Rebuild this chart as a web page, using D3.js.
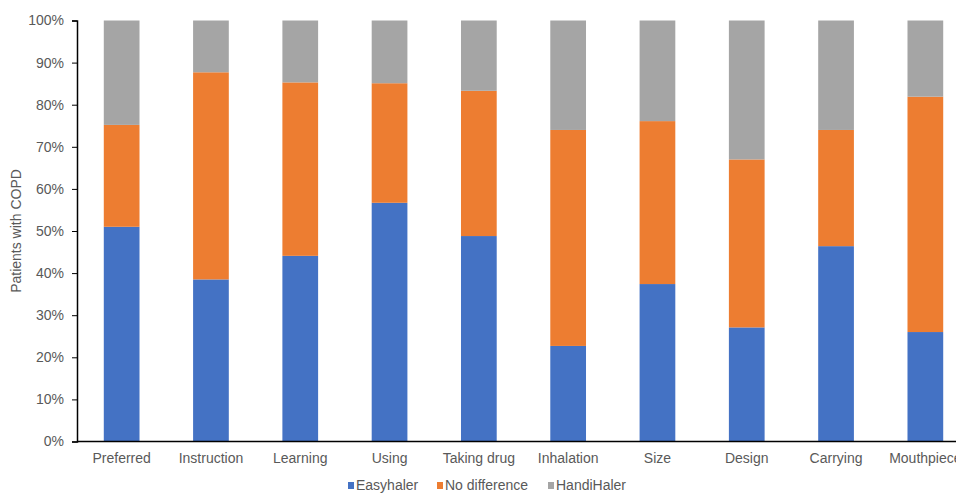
<!DOCTYPE html>
<html>
<head>
<meta charset="utf-8">
<script src="https://cdn.jsdelivr.net/npm/d3@7"></script>
<style>
  html, body { margin: 0; padding: 0; background: #fff; }
  svg { display: block; font-family: "Liberation Sans", Arial, sans-serif; }
</style>
</head>
<body>
<svg id="chart" width="956" height="493"></svg>
<script>
// Inhaler attribute categories
const categories = ["Preferred", "Instruction", "Learning", "Using", "Taking drug",
                    "Inhalation", "Size", "Design", "Carrying", "Mouthpiece"];

// Share of patients (%) per answer
const easyhaler    = [51.0, 38.5, 44.1, 56.7, 48.8, 22.7, 37.4, 27.1, 46.4, 26.0];
const noDifference = [24.2, 49.2, 41.2, 28.4, 34.5, 51.3, 38.7, 39.9, 27.6, 55.9];
const handiHaler   = [24.8, 12.3, 14.7, 14.9, 16.7, 26.0, 23.9, 33.0, 26.0, 18.1];

const seriesNames = ["Easyhaler", "No difference", "HandiHaler"];
const seriesColors = ["#4472C4", "#ED7D31", "#A5A5A5"];
const yTicks = [0, 10, 20, 30, 40, 50, 60, 70, 80, 90, 100];

const rows = categories.map((c, i) => ({
  category: c,
  "Easyhaler": easyhaler[i],
  "No difference": noDifference[i],
  "HandiHaler": handiHaler[i]
}));

const svg = d3.select("#chart");
const margin = { left: 77, top: 20.5, bottom: 441.5, right: 970 };

const x = d3.scaleBand()
  .domain(categories)
  .range([margin.left, margin.right])
  .paddingInner(0.6)
  .paddingOuter(0.3);

const y = d3.scaleLinear()
  .domain([0, 100])
  .range([margin.bottom, margin.top]);

const stack = d3.stack().keys(seriesNames);
const layers = stack(rows);

const color = d3.scaleOrdinal().domain(seriesNames).range(seriesColors);

// Stacked bars
svg.append("g")
  .selectAll("g")
  .data(layers)
  .join("g")
  .attr("fill", d => color(d.key))
  .selectAll("rect")
  .data(d => d)
  .join("rect")
  .attr("x", d => x(d.data.category))
  .attr("width", x.bandwidth())
  .attr("y", d => y(d[1]))
  .attr("height", d => y(d[0]) - y(d[1]));

// Y axis
const yAxis = svg.append("g")
  .attr("transform", `translate(${margin.left},0)`)
  .call(d3.axisLeft(y).tickValues(yTicks).tickFormat(d => d + "%").tickSize(5).tickPadding(8));
yAxis.select(".domain").attr("stroke", "#000").attr("stroke-width", 1.5);
yAxis.selectAll(".tick line").attr("stroke", "#000");
yAxis.selectAll(".tick text")
  .attr("fill", "#595959")
  .style("font-size", "14px");

// X axis
const xAxis = svg.append("g")
  .attr("transform", `translate(0,${margin.bottom})`)
  .call(d3.axisBottom(x).tickSize(0).tickPadding(12));
xAxis.select(".domain").attr("stroke", "#000").attr("stroke-width", 1.5)
  .attr("d", `M${margin.left},0H${margin.right}`);
xAxis.selectAll(".tick text")
  .attr("fill", "#595959")
  .style("font-size", "14px");

// Y axis title
svg.append("text")
  .attr("transform", `translate(21,${(margin.top + margin.bottom) / 2}) rotate(-90)`)
  .attr("text-anchor", "middle")
  .attr("fill", "#595959")
  .style("font-size", "14px")
  .text("Patients with COPD");

// Legend
const legendItems = [
  { name: seriesNames[0], x: 348 },
  { name: seriesNames[1], x: 437 },
  { name: seriesNames[2], x: 548 }
];
const legend = svg.append("g");
legendItems.forEach(item => {
  legend.append("rect")
    .attr("x", item.x)
    .attr("y", 482)
    .attr("width", 6)
    .attr("height", 7)
    .attr("fill", color(item.name));
  legend.append("text")
    .attr("x", item.x + 8)
    .attr("y", 490)
    .attr("fill", "#595959")
    .style("font-size", "14px")
    .text(item.name);
});
</script>
</body>
</html>
